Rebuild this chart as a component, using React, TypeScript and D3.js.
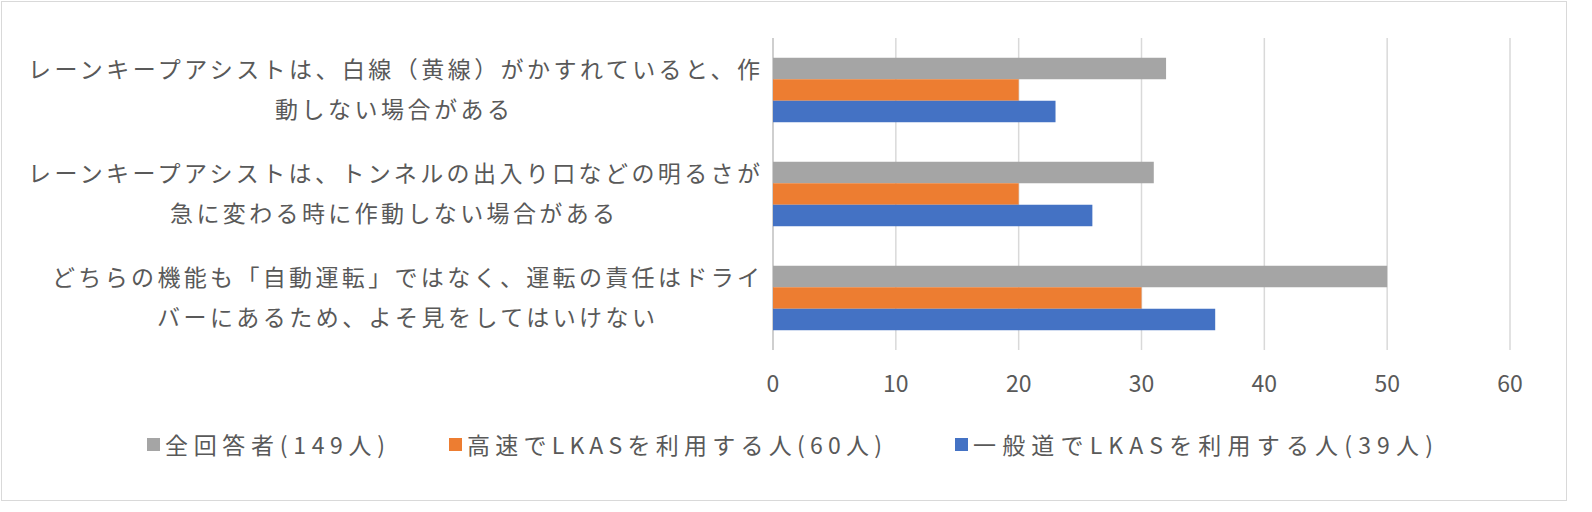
import React from "react";
import * as d3 from "d3";

const categories = [
  ["レーンキープアシストは、白線（黄線）がかすれていると、作", "動しない場合がある"],
  ["レーンキープアシストは、トンネルの出入り口などの明るさが", "急に変わる時に作動しない場合がある"],
  ["どちらの機能も「自動運転」ではなく、運転の責任はドライ", "バーにあるため、よそ見をしてはいけない"],
];
const seriesNames = ["全回答者(149人)", "高速でLKASを利用する人(60人)", "一般道でLKASを利用する人(39人)"];
const seriesColors = ["#a5a5a5", "#ed7d31", "#4472c4"];
const allValues = [32, 31, 50];
const highwayValues = [20, 20, 30];
const generalValues = [23, 26, 36];
const ticks = [0, 10, 20, 30, 40, 50, 60];

export default function App() {
  const series = [allValues, highwayValues, generalValues];
  const x = d3.scaleLinear().domain([0, 60]).range([773, 1510]);
  const y = d3.scaleBand().domain(["0", "1", "2"]).range([38, 350]).paddingInner(0.38).paddingOuter(0.19);
  const inner = d3.scaleBand().domain(["0", "1", "2"]).range([0, y.bandwidth()]);
  const font = "'Noto Sans CJK JP', sans-serif";
  const lineSpans = [[[28, 760], [275, 510]], [[28, 760], [170, 615]], [[52, 760], [157, 655]]];
  const legendX = [147, 449, 955];
  const legendW = [220, 415, 460];
  return (
    <svg width={1592} height={512} style={{ position: "absolute", left: 0, top: 0 }}>
      <rect x={1.5} y={1.5} width={1565} height={499} fill="#fff" stroke="#d9d9d9" />
      {ticks.map((t) => (
        <line key={t} x1={x(t)} x2={x(t)} y1={38} y2={350} stroke={t === 0 ? "#bfbfbf" : "#d9d9d9"} strokeWidth={1.5} />
      ))}
      {categories.map((c, i) => (
        <g key={i}>
          {series.map((s, j) => (
            <rect key={j} x={x(0)} y={y(String(i))! + inner(String(j))!} width={x(s[i]) - x(0)} height={inner.bandwidth()} fill={seriesColors[j]} />
          ))}
          {c.map((line, k) => (
            <text key={k} x={lineSpans[i][k][0]} y={y(String(i))! + 20 + 40 * k} fontFamily={font} fontSize={23} fill="#595959"
              textLength={lineSpans[i][k][1] - lineSpans[i][k][0]} lengthAdjust="spacing">{line}</text>
          ))}
        </g>
      ))}
      {ticks.map((t) => (
        <text key={t} x={x(t)} y={392} textAnchor="middle" fontFamily={font} fontSize={23} fill="#595959">{t}</text>
      ))}
      {seriesNames.map((n, j) => (
        <g key={n}>
          <rect x={legendX[j]} y={438} width={13} height={13} fill={seriesColors[j]} />
          <text x={legendX[j] + 18} y={454} fontFamily={font} fontSize={23} fill="#595959" textLength={legendW[j]} lengthAdjust="spacing">{n}</text>
        </g>
      ))}
    </svg>
  );
}
